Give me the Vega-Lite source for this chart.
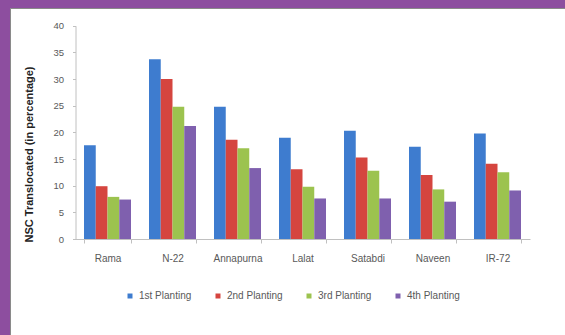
{
  "$schema": "https://vega.github.io/schema/vega-lite/v6.json",
  "width": 556,
  "height": 328,
  "autosize": {"type": "none"},
  "padding": {"left": 10, "top": 8, "right": 0, "bottom": 0},
  "background": "#8D4E9F",
  "config": {
    "font": "Liberation Sans",
    "view": {"fill": "white", "stroke": "#8a8a8a", "strokeWidth": 1}
  },
  "data": {
    "values": [
      {"variety": "Rama", "planting": "1st Planting", "value": 17.6},
      {"variety": "Rama", "planting": "2nd Planting", "value": 9.9},
      {"variety": "Rama", "planting": "3rd Planting", "value": 7.9},
      {"variety": "Rama", "planting": "4th Planting", "value": 7.4},
      {"variety": "N-22", "planting": "1st Planting", "value": 33.7},
      {"variety": "N-22", "planting": "2nd Planting", "value": 30.0},
      {"variety": "N-22", "planting": "3rd Planting", "value": 24.8},
      {"variety": "N-22", "planting": "4th Planting", "value": 21.2},
      {"variety": "Annapurna", "planting": "1st Planting", "value": 24.8},
      {"variety": "Annapurna", "planting": "2nd Planting", "value": 18.6},
      {"variety": "Annapurna", "planting": "3rd Planting", "value": 17.0},
      {"variety": "Annapurna", "planting": "4th Planting", "value": 13.3},
      {"variety": "Lalat", "planting": "1st Planting", "value": 19.0},
      {"variety": "Lalat", "planting": "2nd Planting", "value": 13.1},
      {"variety": "Lalat", "planting": "3rd Planting", "value": 9.8},
      {"variety": "Lalat", "planting": "4th Planting", "value": 7.6},
      {"variety": "Satabdi", "planting": "1st Planting", "value": 20.3},
      {"variety": "Satabdi", "planting": "2nd Planting", "value": 15.3},
      {"variety": "Satabdi", "planting": "3rd Planting", "value": 12.8},
      {"variety": "Satabdi", "planting": "4th Planting", "value": 7.6},
      {"variety": "Naveen", "planting": "1st Planting", "value": 17.3},
      {"variety": "Naveen", "planting": "2nd Planting", "value": 12.0},
      {"variety": "Naveen", "planting": "3rd Planting", "value": 9.3},
      {"variety": "Naveen", "planting": "4th Planting", "value": 7.0},
      {"variety": "IR-72", "planting": "1st Planting", "value": 19.8},
      {"variety": "IR-72", "planting": "2nd Planting", "value": 14.1},
      {"variety": "IR-72", "planting": "3rd Planting", "value": 12.5},
      {"variety": "IR-72", "planting": "4th Planting", "value": 9.1}
    ]
  },
  "mark": {"type": "bar"},
  "encoding": {
    "x": {
      "field": "variety",
      "type": "nominal",
      "sort": ["Rama", "N-22", "Annapurna", "Lalat", "Satabdi", "Naveen", "IR-72"],
      "scale": {"range": [65, 520], "paddingInner": 0.277, "paddingOuter": 0.1385},
      "axis": {
        "title": null,
        "labelAngle": 0,
        "offset": -97,
        "tickBand": "extent",
        "domainColor": "#c0c0c0",
        "tickColor": "#c0c0c0",
        "tickSize": 4,
        "labelPadding": 10,
        "labelFontSize": 10,
        "labelColor": "#595959"
      }
    },
    "xOffset": {
      "field": "planting",
      "type": "nominal",
      "sort": ["1st Planting", "2nd Planting", "3rd Planting", "4th Planting"]
    },
    "y": {
      "field": "value",
      "type": "quantitative",
      "scale": {"domain": [0, 40], "range": [231, 17.7], "nice": false},
      "axis": {
        "title": "NSC Translocated (in percentage)",
        "titleFontSize": 11,
        "titleFontWeight": "bold",
        "titleColor": "#222222",
        "titlePadding": 18,
        "titleY": 146,
        "offset": -65.5,
        "values": [0, 5, 10, 15, 20, 25, 30, 35, 40],
        "grid": false,
        "domainColor": "#c0c0c0",
        "tickColor": "#c0c0c0",
        "tickSize": 3,
        "labelPadding": 9,
        "labelFontSize": 9.5,
        "labelColor": "#595959"
      }
    },
    "color": {
      "field": "planting",
      "type": "nominal",
      "sort": ["1st Planting", "2nd Planting", "3rd Planting", "4th Planting"],
      "scale": {"range": ["#3E7CCF", "#D5453F", "#9CC34F", "#7F60AE"]},
      "legend": {
        "title": null,
        "orient": "none",
        "legendX": 115,
        "legendY": 283,
        "direction": "horizontal",
        "symbolType": "square",
        "symbolSize": 25,
        "symbolStrokeWidth": 0,
        "labelFontSize": 10,
        "labelColor": "#595959",
        "columnPadding": 21
      }
    }
  }
}
